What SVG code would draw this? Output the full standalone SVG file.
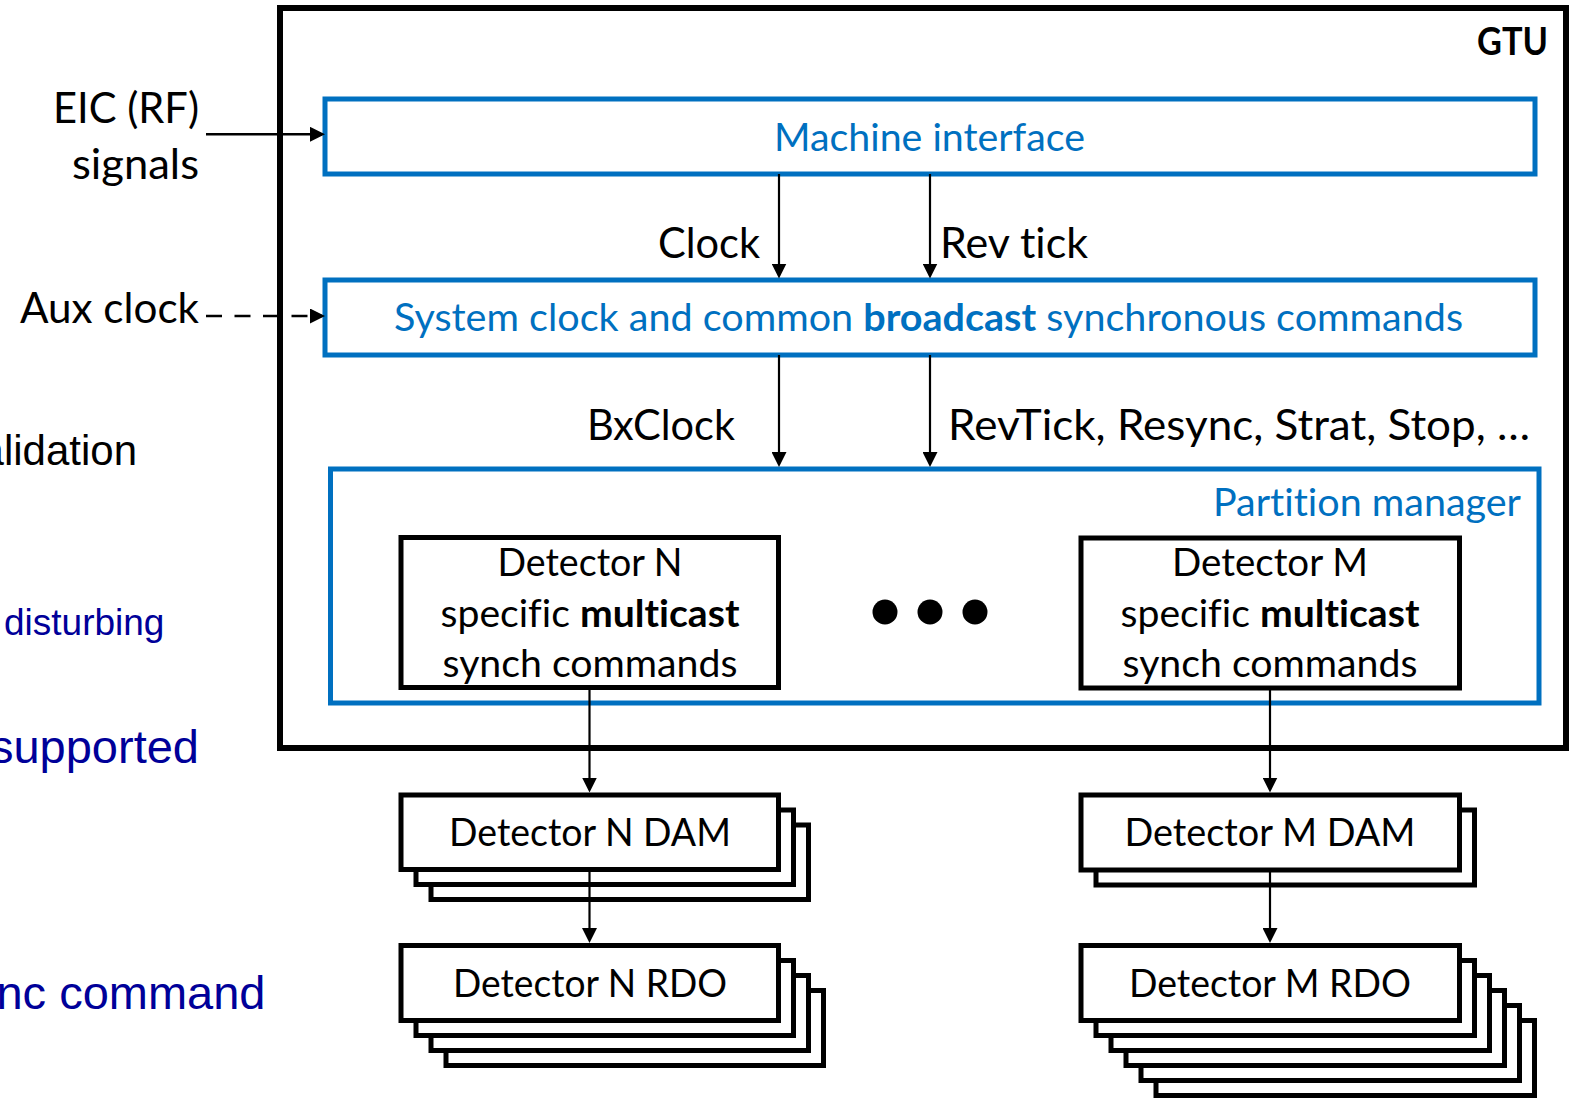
<svg xmlns="http://www.w3.org/2000/svg" width="1580" height="1098" viewBox="0 0 1580 1098">
<defs>
<style>
.t{font-family:Lato,"Open Sans","Liberation Sans",sans-serif;font-size:38.5px;fill:#000;font-variant-ligatures:none}
.tl{font-family:Lato,"Open Sans","Liberation Sans",sans-serif;font-size:43px;fill:#000;font-variant-ligatures:none}
.bl{fill:#0070C0}
.b{font-weight:bold}
.bg{font-family:"Liberation Sans",Arial,sans-serif;fill:#000099}
.gtu{fill:#fff;stroke:#000;stroke-width:6}
.bbox{fill:#fff;stroke:#0070C0;stroke-width:5}
.kbox{fill:#fff;stroke:#000;stroke-width:5}
.ln{fill:none;stroke:#000;stroke-width:2.2}
.ln2{fill:none;stroke:#000;stroke-width:2.6}
.dash{stroke-dasharray:16 12.5}
</style>
<marker id="ah" viewBox="0 0 15 15" markerUnits="userSpaceOnUse" markerWidth="15" markerHeight="15" refX="12" refY="7.5" orient="auto">
<path d="M0,0 L15,7.5 L0,15 z" fill="#000"/>
</marker>
</defs>
<rect width="1580" height="1098" fill="#fff"/>

<g id="background-text">
<text class="bg" x="137" y="465" font-size="42" text-anchor="end" style="fill:#000">alidation</text>
<text class="bg" x="4" y="635" font-size="37">disturbing</text>
<text class="bg" x="199" y="763" font-size="47" text-anchor="end">supported</text>
<text class="bg" x="265.5" y="1009" font-size="47" text-anchor="end">nc command</text>
</g>

<g id="gtu">
<rect class="gtu" x="280" y="8" width="1286" height="740"/>
<text class="t b" x="1548" y="55" font-size="39" text-anchor="end" textLength="71" lengthAdjust="spacingAndGlyphs">GTU</text>
</g>

<g id="machine-interface">
<rect class="bbox" x="325" y="99" width="1210" height="75"/>
<text class="t bl" x="929.5" y="151" text-anchor="middle" textLength="311" lengthAdjust="spacingAndGlyphs">Machine interface</text>
</g>

<g id="system-clock">
<rect class="bbox" x="325" y="280" width="1210" height="75"/>
<text class="t bl" x="928.5" y="331" text-anchor="middle" textLength="1069" lengthAdjust="spacingAndGlyphs">System clock and common <tspan class="b">broadcast</tspan> synchronous commands</text>
</g>

<g id="partition-manager">
<rect class="bbox" x="330.5" y="469" width="1208.5" height="234"/>
<text class="t bl" x="1521" y="516" text-anchor="end" textLength="308" lengthAdjust="spacingAndGlyphs">Partition manager</text>
</g>

<g id="detector-n">
<rect class="kbox" x="401" y="537.5" width="377.5" height="150"/>
<text class="t" x="590" y="576" text-anchor="middle" textLength="185" lengthAdjust="spacingAndGlyphs">Detector N</text>
<text class="t" x="590" y="627" text-anchor="middle" textLength="299" lengthAdjust="spacingAndGlyphs">specific <tspan class="b">multicast</tspan></text>
<text class="t" x="590" y="677" text-anchor="middle" textLength="295" lengthAdjust="spacingAndGlyphs">synch commands</text>
</g>

<g id="ellipsis">
<circle cx="885" cy="612" r="12.5" fill="#000"/>
<circle cx="930" cy="612" r="12.5" fill="#000"/>
<circle cx="975" cy="612" r="12.5" fill="#000"/>
</g>

<g id="detector-m">
<rect class="kbox" x="1081" y="538" width="378.5" height="150"/>
<text class="t" x="1270" y="576" text-anchor="middle" textLength="196" lengthAdjust="spacingAndGlyphs">Detector M</text>
<text class="t" x="1270" y="627" text-anchor="middle" textLength="299" lengthAdjust="spacingAndGlyphs">specific <tspan class="b">multicast</tspan></text>
<text class="t" x="1270" y="677" text-anchor="middle" textLength="295" lengthAdjust="spacingAndGlyphs">synch commands</text>
</g>

<g id="detector-n-dam">
<rect class="kbox" x="431" y="825" width="377.5" height="74.5"/>
<rect class="kbox" x="416" y="810" width="377.5" height="74.5"/>
<rect class="kbox" x="401" y="795" width="377.5" height="74.5"/>
<text class="t" x="590" y="846" text-anchor="middle" textLength="282" lengthAdjust="spacingAndGlyphs">Detector N DAM</text>
</g>

<g id="detector-n-rdo">
<rect class="kbox" x="446" y="990.5" width="377.5" height="75"/>
<rect class="kbox" x="431" y="975.5" width="377.5" height="75"/>
<rect class="kbox" x="416" y="960.5" width="377.5" height="75"/>
<rect class="kbox" x="401" y="945.5" width="377.5" height="75"/>
<text class="t" x="590" y="997" text-anchor="middle" textLength="274" lengthAdjust="spacingAndGlyphs">Detector N RDO</text>
</g>

<g id="detector-m-dam">
<rect class="kbox" x="1096" y="810" width="378.5" height="75"/>
<rect class="kbox" x="1081" y="795" width="378.5" height="75"/>
<text class="t" x="1270" y="846" text-anchor="middle" textLength="291" lengthAdjust="spacingAndGlyphs">Detector M DAM</text>
</g>

<g id="detector-m-rdo">
<rect class="kbox" x="1156" y="1020.5" width="378.5" height="75"/>
<rect class="kbox" x="1141" y="1005.5" width="378.5" height="75"/>
<rect class="kbox" x="1126" y="990.5" width="378.5" height="75"/>
<rect class="kbox" x="1111" y="975.5" width="378.5" height="75"/>
<rect class="kbox" x="1096" y="960.5" width="378.5" height="75"/>
<rect class="kbox" x="1081" y="945.5" width="378.5" height="75"/>
<text class="t" x="1270" y="997" text-anchor="middle" textLength="282" lengthAdjust="spacingAndGlyphs">Detector M RDO</text>
</g>

<g id="connectors">
<line class="ln2" x1="206" y1="134.3" x2="322" y2="134.3" marker-end="url(#ah)"/>
<line class="ln2 dash" x1="206" y1="316" x2="322" y2="316" marker-end="url(#ah)"/>
<line class="ln" x1="779" y1="174" x2="779" y2="275.5" marker-end="url(#ah)"/>
<line class="ln" x1="930" y1="174" x2="930" y2="275.5" marker-end="url(#ah)"/>
<line class="ln" x1="779" y1="355" x2="779" y2="464" marker-end="url(#ah)"/>
<line class="ln" x1="930" y1="355" x2="930" y2="464" marker-end="url(#ah)"/>
<line class="ln" x1="589.5" y1="688" x2="589.5" y2="789.5" marker-end="url(#ah)"/>
<line class="ln" x1="589.5" y1="870" x2="589.5" y2="940" marker-end="url(#ah)"/>
<line class="ln" x1="1270" y1="688" x2="1270" y2="789.5" marker-end="url(#ah)"/>
<line class="ln" x1="1270" y1="870" x2="1270" y2="940" marker-end="url(#ah)"/>
</g>

<g id="labels">
<text class="tl" x="199" y="123" text-anchor="end" textLength="146" lengthAdjust="spacingAndGlyphs">EIC (RF)</text>
<text class="tl" x="199" y="179" text-anchor="end" textLength="127" lengthAdjust="spacingAndGlyphs">signals</text>
<text class="tl" x="199" y="323" text-anchor="end" textLength="179" lengthAdjust="spacingAndGlyphs">Aux clock</text>
<text class="tl" x="760" y="258" text-anchor="end" textLength="102" lengthAdjust="spacingAndGlyphs">Clock</text>
<text class="tl" x="940" y="258" textLength="148" lengthAdjust="spacingAndGlyphs">Rev tick</text>
<text class="tl" x="735" y="440" text-anchor="end" textLength="148" lengthAdjust="spacingAndGlyphs">BxClock</text>
<text class="tl" x="948" y="440" textLength="582" lengthAdjust="spacingAndGlyphs">RevTick, Resync, Strat, Stop, …</text>
</g>
</svg>
